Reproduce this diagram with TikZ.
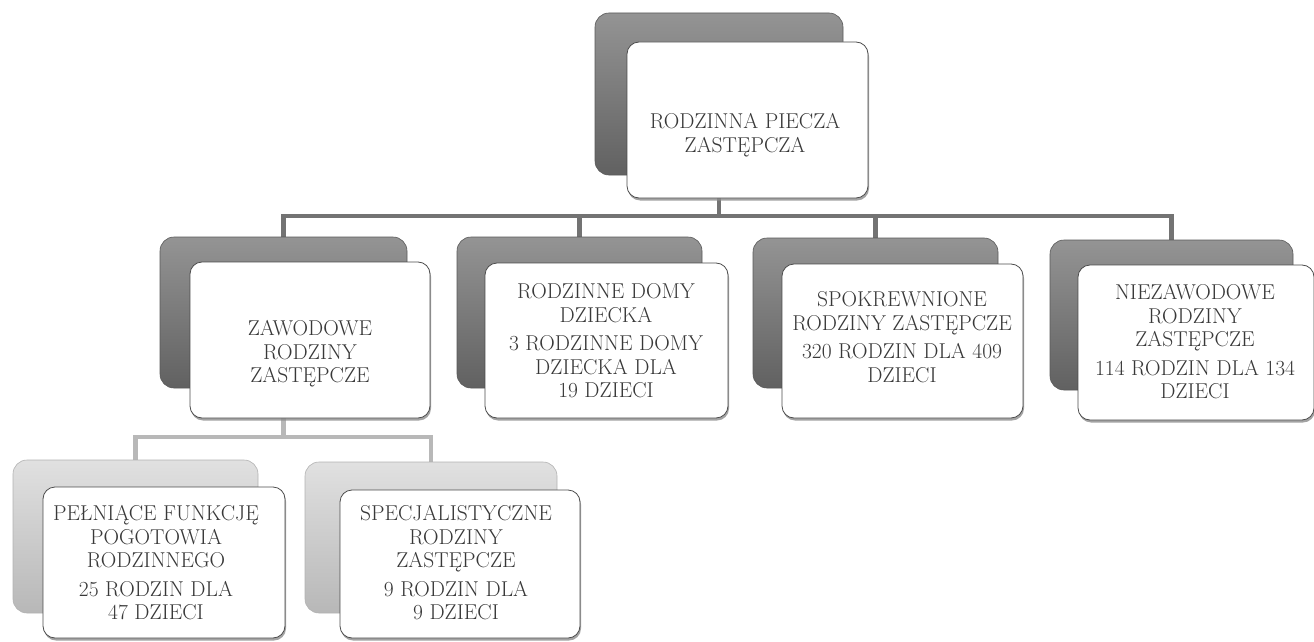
\documentclass[tikz,border=0pt]{standalone}
\usepackage{fontspec}
\usetikzlibrary{backgrounds,shadows}
\begin{document}
\begin{tikzpicture}[x=1pt,y=-1pt,
  backdark/.style={rounded corners=14pt, draw=black!65, line width=0.6pt,
    top color=black!42, bottom color=black!62, inner sep=0pt},
  backlight/.style={rounded corners=14pt, draw=black!30, line width=0.6pt,
    top color=black!12, bottom color=black!28, inner sep=0pt},
  front/.style={rounded corners=12pt, draw=black!70, line width=0.8pt, fill=white,
    inner sep=0pt, drop shadow={shadow xshift=1pt, shadow yshift=-2.5pt, fill=black!45, opacity=0.8}},
  txt/.style={align=center, inner sep=0pt, text=black!78,
    font=\fontsize{21.5}{23.5}\selectfont},
  conn/.style={draw=black!55, line width=4.5pt},
  conn2/.style={draw=black!28, line width=4.5pt}
]
\useasboundingbox (0,0) rectangle (1314,642);

\coordinate (bus1) at (0,216);
\coordinate (bus2) at (0,437);

% top
\node[backdark, minimum width=248pt, minimum height=162pt] (topb) at (719,94) {};
\node[front, minimum width=241pt, minimum height=156pt] (topf) at (747.5,120) {};
\node[txt] (topt) at (745,135) {RODZINNA PIECZA\\ZASTĘPCZA};

% level 2
\node[backdark, minimum width=247pt, minimum height=151pt] (b1b) at (283.5,312.5) {};
\node[front, minimum width=240pt, minimum height=156pt] (b1f) at (310,340) {};
\node[txt] (b1t) at (310,354) {ZAWODOWE\\RODZINY\\ZASTĘPCZE};

\node[backdark, minimum width=245pt, minimum height=151pt] (b2b) at (579.5,312.5) {};
\node[front, minimum width=243pt, minimum height=155pt] (b2f) at (606.5,340.5) {};
\node[txt] (b2t) at (606,341) {RODZINNE DOMY\\DZIECKA\\[5pt]3 RODZINNE DOMY\\DZIECKA DLA\\19 DZIECI};

\node[backdark, minimum width=245pt, minimum height=150pt] (b3b) at (875.5,313) {};
\node[front, minimum width=241pt, minimum height=154pt] (b3f) at (902.5,341) {};
\node[txt] (b3t) at (902,337) {SPOKREWNIONE\\RODZINY ZASTĘPCZE\\[5pt]320 RODZIN DLA 409\\DZIECI};

\node[backdark, minimum width=243pt, minimum height=150pt] (b4b) at (1171.5,315) {};
\node[front, minimum width=236pt, minimum height=155pt] (b4f) at (1196,342.5) {};
\node[txt] (b4t) at (1195,342) {NIEZAWODOWE\\RODZINY\\ZASTĘPCZE\\[5pt]114 RODZIN DLA 134\\DZIECI};

% level 3
\node[backlight, minimum width=245pt, minimum height=153pt] (c1b) at (135.5,536.5) {};
\node[front, minimum width=242pt, minimum height=151pt] (c1f) at (164,562.5) {};
\node[txt] (c1t) at (156,563) {PEŁNIĄCE FUNKCJĘ\\POGOTOWIA\\RODZINNEGO\\[5pt]25 RODZIN DLA\\47 DZIECI};

\node[backlight, minimum width=252pt, minimum height=151pt] (c2b) at (431,537.5) {};
\node[front, minimum width=240pt, minimum height=148pt] (c2f) at (460,564) {};
\node[txt] (c2t) at (456,563) {SPECJALISTYCZNE\\RODZINY\\ZASTĘPCZE\\[5pt]9 RODZIN DLA\\9 DZIECI};

\begin{pgfonlayer}{background}
  \draw[conn] (topb.center) -- (topb.center |- bus1) -| (b1b.center);
  \draw[conn] (topb.center) -- (topb.center |- bus1) -| (b2b.center);
  \draw[conn] (topb.center) -- (topb.center |- bus1) -| (b3b.center);
  \draw[conn] (topb.center) -- (topb.center |- bus1) -| (b4b.center);
  \draw[conn2] (b1b.center) -- (b1b.center |- bus2) -| (c1b.center);
  \draw[conn2] (b1b.center) -- (b1b.center |- bus2) -| (c2b.center);
\end{pgfonlayer}
\end{tikzpicture}
\end{document}
